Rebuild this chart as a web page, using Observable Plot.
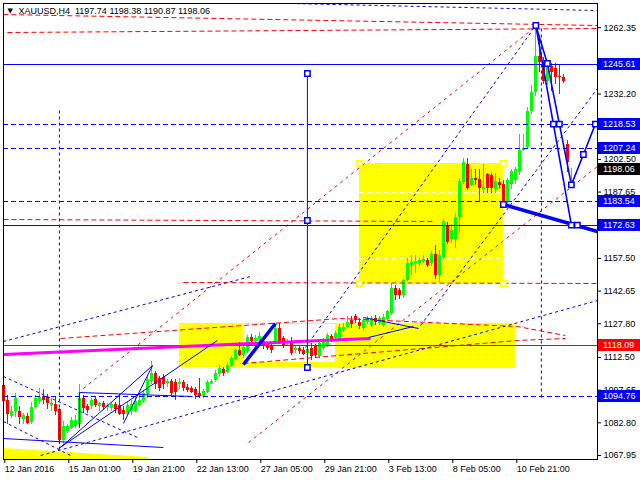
<!DOCTYPE html>
<html><head><meta charset="utf-8">
<script src="https://cdn.jsdelivr.net/npm/d3@7"></script>
<script src="https://cdn.jsdelivr.net/npm/@observablehq/plot@0.6"></script>
<style>body{margin:0;background:#fff}</style>
</head><body><div id="chart"></div>
<script>
// ---- data: H4 candles (bar index 0..142) ----
const openP = [1099.8,1093.0,1085.7,1087.9,1087.9,1084.5,1085.7,1083,1089.7,1092.3,
1094.6,1094.2,1090.9,1091,1089,1074.8,1079,1080.2,1081,1082,
1093.8,1090,1090,1093.3,1090,1091.5,1089.7,1089.5,1091,1090.5,
1088.5,1086.5,1088,1087.9,1090.6,1092.3,1095.5,1101.8,1105.2,1103,
1103.3,1100.5,1101.6,1101,1100,1101,1098.7,1098.5,1097.9,1096,
1094.6,1096.5,1100.5,1102,1104.6,1107,1105.6,1108.6,1111.5,1115.5,
1113.5,1115,1121.4,1119.6,1120,1119.8,1118.3,1117.3,1119.5,1125.6,
1121,1118.7,1119.6,1115.5,1116.4,1115.8,1114.5,1116.4,1117.3,1112.8,
1116.4,1117.7,1122,1121,1120.5,1124.7,1126,1129.3,1131,1128.5,
1125.5,1128.6,1127,1130,1128,1127,1129.7,1132.3,1144,1142.8,
1140.6,1147.4,1154.2,1155,1155,1156.2,1156.5,1155,1159.5,1149.7,
1157.9,1172.3,1165.9,1166,1176.1,1192,1200.3,1190.5,1194,1193.5,
1188.9,1195.8,1195,1188.9,1192,1191.2,1182.9,1191.2,1192.7,1196.5,
1206.5,1207.8,1224.4,1232.8,1249.4,1247,1238,1244.8,1244,1240.3,
1239.5,1209.3,1197.74];
const closeP = [1092.3,1086.5,1087.9,1093.8,1085.2,1086,1082.5,1089.6,1093.9,1094.2,
1092.8,1091.5,1091.8,1088,1074.8,1081,1081,1083.8,1084,1093.8,
1089.2,1088.3,1092.8,1090.6,1091.5,1089.8,1090.6,1091,1088.7,1086.8,
1086.5,1090.6,1091,1092.3,1093,1096,1102.3,1105,1100,1098.5,
1100,1101.5,1096,1096.5,1101,1098.3,1097.5,1096.7,1095.3,1094.6,
1097,1101,1101.8,1105,1107.4,1105,1109,1112,1115.5,1113.3,
1117,1121.4,1119.6,1121.2,1122,1117.3,1116.4,1115.5,1125.6,1119.5,
1118,1119.6,1114.2,1116.4,1115,1114,1116,1112.8,1113.3,1118.7,
1119.6,1122.3,1120.5,1123.5,1126.1,1126,1128.4,1127.3,1129.5,1126.5,
1129.3,1130,1130,1128.5,1130,1130.6,1133.2,1144,1140.6,1140.6,
1147.4,1155,1155.8,1156,1156.7,1157.2,1154.5,1159.5,1149.7,1158.7,
1174.1,1164.8,1170.4,1176,1192.3,1201,1189.2,1193.8,1192.7,1189.2,
1189.7,1189.2,1189.2,1192.3,1190.8,1182.9,1192.7,1197.2,1198,1206.5,
1207.5,1224.4,1232.8,1249.4,1246.3,1238,1245.5,1241.8,1239.5,1239.5,
1238,1201,1198.06];
const highP = [1101,1095,1090,1096,1090,1087,1087,1092,1095,1098.5,
1098,1095.5,1094,1094.5,1089.5,1083.5,1082,1085,1086,1100,
1095,1091,1093.7,1094.5,1092,1092.5,1091.5,1092,1092,1095.5,
1090,1092,1093,1094.5,1096,1097.5,1104.5,1110.5,1106,1104,
1104.9,1102.5,1102.5,1102.5,1103,1102,1100,1099.5,1099,1103,
1098,1102,1102.5,1106.5,1109,1108,1110,1113,1116.5,1119.5,
1118,1122.5,1123,1122.5,1124,1121,1119.5,1118.5,1127,1128,
1122,1120.5,1121.4,1117.3,1117.5,1117,1117,1118.8,1118.5,1119.5,
1121,1123.5,1123,1124.5,1127.5,1128,1131,1131,1132,1130,
1130,1131,1131,1131.5,1131,1132,1134,1146,1145,1144,
1148,1157.5,1158.8,1158.8,1157.5,1158.8,1157.5,1160.5,1163.5,1161,
1175,1174,1173,1178,1193.5,1203,1203,1198,1198,1198,
1200,1196,1196,1196,1194,1193,1194,1198,1199,1214,
1214,1226,1236,1263.5,1259,1249,1247,1246,1246,1245.2,
1241,1211,1198.38];
const lowP = [1091,1082,1084.7,1085,1082,1082,1082,1082,1089,1091,
1091,1089,1088,1086,1073,1072,1078,1079.6,1080,1080,
1087,1087,1089,1089.7,1088,1088.5,1088,1088,1087,1086,
1084,1086,1086,1087.5,1090,1091.5,1094,1100,1098,1097,
1098,1099,1095,1093,1098,1097,1096.5,1096,1093.5,1093.8,
1094,1096,1100,1101,1103.5,1104,1105,1108,1111,1112.8,
1112,1114.5,1118,1118.5,1119,1116,1115.5,1114.5,1118.8,1118.5,
1116.5,1118,1113.3,1114.5,1114,1113.3,1113.5,1111,1112,1112,
1115.5,1117,1119.5,1120,1120,1124,1125.5,1125.5,1128,1125,
1124.5,1127.5,1126,1127,1127,1126,1129,1131.5,1138.5,1139,
1139.5,1147,1149.6,1150.5,1154,1155,1153.5,1154,1148,1146.5,
1156.8,1164,1164.5,1162,1169,1191,1188.5,1190,1190.5,1183.5,
1187,1187,1187,1187,1189,1181,1181,1189,1191,1195,
1206,1207,1223,1231,1242,1236.5,1236,1233.5,1236.5,1232,
1236.8,1196.5,1190.87];

// ---- axes ----
const xTickIdx = [0,16,32,48,64,80,96,112,128];
const xTickLabels = ["12 Jan 2016","15 Jan 01:00","19 Jan 21:00","22 Jan 13:00","27 Jan 05:00","29 Jan 21:00","3 Feb 13:00","8 Feb 05:00","10 Feb 21:00"];
const yTickValues = [1262.35,1232.20,1202.50,1187.65,1157.50,1142.65,1127.80,1112.50,1097.65,1082.80,1067.95];
const xDomain = [-0.075, 148.425];
const yDomain = [1066.14, 1273.33];
const titleText = "XAUUSD,H4\u00a0\u00a01197.74 1198.38 1190.87 1198.06";

// ---- price levels and tags ----
const solidBlueLevels = [1245.61, 1172.63];
const dashedBlueLevels = [1218.53, 1207.24, 1183.54, 1094.76];
const redLevels = [1118.09];
const blueTags = [1245.61, 1218.53, 1207.24, 1183.54, 1172.63, 1094.76];
const redTags = [1118.09];
const currentTags = [1198.06];

// ---- drawn objects, anchors as [bar index, price] ----
const redDashedFlat = [
  [[-0.1,1268.33],[148.4,1263.33]],
  [[0.9,1260.15],[148.4,1261.97]],
  [[-0.1,1175.18],[107.9,1174.28]],
  [[44.9,1146.56],[148.4,1146.11]],
  [[14.2,1121.12],[84.2,1130.20],[128.4,1126.57],[140.4,1122.48]],
  [[59.9,1109.76],[128.4,1120.21],[140.4,1121.12]]
];
const redDashedDiag = [
  [[19.9,1098.40],[133,1262.88]],
  [[61.2,1073.86],[148.4,1199.27]]
];
const blueDashedDiag = [
  [[71.7,1273.33],[148.4,1270.15]],
  [[-0.1,1119.75],[61.7,1149.29]],
  [[75.4,1117.03],[133,1263.33]],
  [[9.2,1067.95],[148.4,1138.38]],
  [[-0.1,1103.85],[33.4,1076.13]],
  [[-0.1,1083.40],[16.7,1067.95]],
  [[104.2,1127.02],[148.4,1234.71]],
  [[13.9,1224.71],[13.9,1070.22]],
  [[134.4,1261.97],[134.4,1092.95]]
];
const blueThin = [
  [[-0.1,1075.67],[39.9,1071.59]],
  [[18.9,1080.67],[18.9,1096.58],[47.2,1094.76]],
  [[14.2,1071.59],[37.2,1108.85],[29.9,1082.49]],
  [[13.7,1071.13],[53.4,1120.21]],
  [[89.9,1130.66],[103.7,1125.66]],
  [[91.2,1121.57],[102.4,1126.57]],
  [[75.9,1241.52],[75.9,1107.94]]
];
const blueThick = [
  [[59.9,1109.30],[67.9,1127.93]],
  [[124.9,1182.0],[148.4,1169.73]]
];
const magentaLine = [[[-0.1,1113.85],[79.2,1120.21],[91.7,1121.12]]];
const forecastPaths = [
  [[133,1263.33],[137.4,1218.53],[141.9,1172.63]],
  [[133,1263.33],[135.9,1246.06],[138.9,1218.53],[141.9,1190.9],[144.9,1204.72],[147.9,1218.53]]
];
const blueAnchors = [[133,1263.33],[135.9,1246.06],[137.4,1218.53],[138.9,1218.53],[141.9,1190.9],[144.9,1204.72],[147.9,1218.53],[124.9,1182.0],[141.9,1172.63],[143.4,1172.63],[75.9,1241.52],[75.9,1174.73],[75.9,1107.94]];
const yellowAnchors = [[88.9,1200.63],[124.9,1200.63],[88.9,1146.11],[124.9,1146.11]];
// rectangles: [x1, x2, priceLow, priceHigh]
const yellowRects = [
  [88.9,124.9,1146.11,1200.63],
  [43.9,59.9,1107.94,1127.93],
  [59.9,82.9,1107.94,1110.21],
  [82.9,127.9,1107.49,1127.93]
];
const yellowBand = [[-0.1,1071.13],[36.2,1067.04]];
const yellowEdge = [[[59.9,1127.93],[82.9,1127.93]]];
// white levels inside rectangles: [price, x1, x2]
const whiteSolid = [[1197.90,88.9,124.9]];
const whiteDashed = [[1187.45,88.9,124.9],[1157.46,88.9,124.9],[1127.02,43.9,59.9],[1112.49,43.9,59.9],[1127.02,82.9,127.9],[1112.49,82.9,127.9]];

// ---- build ----
const blue = "#0000ff", red = "#ff0000", lime = "#00ff00", yellow = "#ffff00", magenta = "#ff00ff";
const candles = openP.map((o,i)=>({i, o, c: closeP[i], h: highP[i], l: lowP[i]}));
const cColor = d => d.c >= d.o ? lime : red;
const toPts = lines => lines.flatMap((pts,k)=>pts.map(([x,y])=>({x,y,k})));
const lineMark = (lines, opts) => Plot.line(toPts(lines), {x:"x", y:"y", z:"k", strokeLinecap:"butt", strokeLinejoin:"miter", ...opts});
const labelMap = new Map(xTickIdx.map((d,i)=>[d, xTickLabels[i]]));
const band = [{x: yellowBand[0][0], top: yellowBand[0][1], bot: yDomain[0]}, {x: yellowBand[1][0], top: yellowBand[1][1], bot: yDomain[0]}];

const chart = Plot.plot({
  width: 640, height: 480,
  marginLeft: 3, marginRight: 43, marginTop: 3, marginBottom: 21,
  style: {fontFamily: "'Liberation Sans', Arial, sans-serif", fontSize: "9px", color: "black", background: "white"},
  x: {type: "linear", domain: xDomain},
  y: {type: "linear", domain: yDomain},
  marks: [
    Plot.rect(yellowRects, {x1: d=>d[0], x2: d=>d[1], y1: d=>d[2], y2: d=>d[3], fill: yellow}),
    Plot.areaY(band, {x: "x", y1: "bot", y2: "top", fill: yellow}),
    lineMark(yellowEdge, {stroke: yellow, strokeWidth: 1}),
    Plot.ruleY(whiteSolid, {y: d=>d[0], x1: d=>d[1], x2: d=>d[2], stroke: "white"}),
    Plot.ruleY(whiteDashed, {y: d=>d[0], x1: d=>d[1], x2: d=>d[2], stroke: "white", strokeDasharray: "5,3"}),
    Plot.ruleX(candles, {x: "i", y1: "l", y2: "h", stroke: cColor, strokeWidth: 1, shapeRendering: "crispEdges"}),
    Plot.ruleX(candles, {x: "i", y1: "o", y2: "c", stroke: cColor, strokeWidth: 3, shapeRendering: "crispEdges"}),
    lineMark(redDashedFlat, {stroke: red, strokeWidth: 1, strokeDasharray: "5,3"}),
    lineMark(redDashedDiag, {stroke: red, strokeWidth: 1, strokeDasharray: "3,4"}),
    lineMark(blueDashedDiag, {stroke: blue, strokeWidth: 1, strokeDasharray: "3,3"}),
    Plot.ruleY(dashedBlueLevels, {stroke: blue, strokeDasharray: "5,3", shapeRendering: "crispEdges"}),
    Plot.ruleY(solidBlueLevels, {stroke: blue, shapeRendering: "crispEdges"}),
    Plot.ruleY(redLevels, {stroke: red, shapeRendering: "crispEdges"}),
    lineMark(magentaLine, {stroke: magenta, strokeWidth: 3}),
    lineMark(blueThin, {stroke: blue, strokeWidth: 1}),
    lineMark(blueThick, {stroke: blue, strokeWidth: 3.5}),
    lineMark(forecastPaths, {stroke: blue, strokeWidth: 1.6}),
    Plot.dot(blueAnchors, {x: d=>d[0], y: d=>d[1], symbol: "square", r: 3, fill: "white", stroke: blue, strokeWidth: 1.5}),
    Plot.dot(yellowAnchors, {x: d=>d[0], y: d=>d[1], symbol: "square", r: 3, fill: "white", stroke: yellow, strokeWidth: 1.5}),
    Plot.frame({stroke: "black"}),
    Plot.axisX(xTickIdx, {tickSize: 4, tickPadding: 2, tickFormat: d => labelMap.get(d), textAnchor: "start", dx: 1, label: null}),
    Plot.axisY(yTickValues, {anchor: "right", tickSize: 3, tickPadding: 3, tickFormat: d => d.toFixed(2), label: null}),
    Plot.text(["\u25BC"], {frameAnchor: "top-left", text: d => d, dx: 4, dy: 5, lineAnchor: "top", textAnchor: "start", fontSize: 7, fontFamily: "DejaVu Sans", fill: "black"}),
    Plot.text([titleText], {frameAnchor: "top-left", text: d => d, dx: 15, dy: 4, lineAnchor: "top", textAnchor: "start", fill: "black"})
  ]
});

// price tags on the right axis, placed with the plot's own y scale
const ys = chart.scale("y");
const xRight = chart.scale("x").range[1];
const tags = [
  ...blueTags.map(v => ({v, fill: blue})),
  ...redTags.map(v => ({v, fill: red})),
  ...currentTags.map(v => ({v, fill: "#000000"}))
];
const g = d3.select(chart).append("g")
  .attr("font-family", "'Liberation Sans', Arial, sans-serif").attr("font-size", 9)
  .attr("text-anchor", "start");
tags.forEach(t => {
  const y = Math.round(ys.apply(t.v));
  g.append("rect").attr("x", xRight + 1).attr("y", y - 6).attr("width", 640 - xRight).attr("height", 12).attr("fill", t.fill);
  g.append("text").attr("x", xRight + 6).attr("y", y).attr("dy", "0.35em").attr("text-anchor", "start").attr("fill", "white").text(t.v.toFixed(2));
});
document.getElementById("chart").appendChild(chart);
</script></body></html>
